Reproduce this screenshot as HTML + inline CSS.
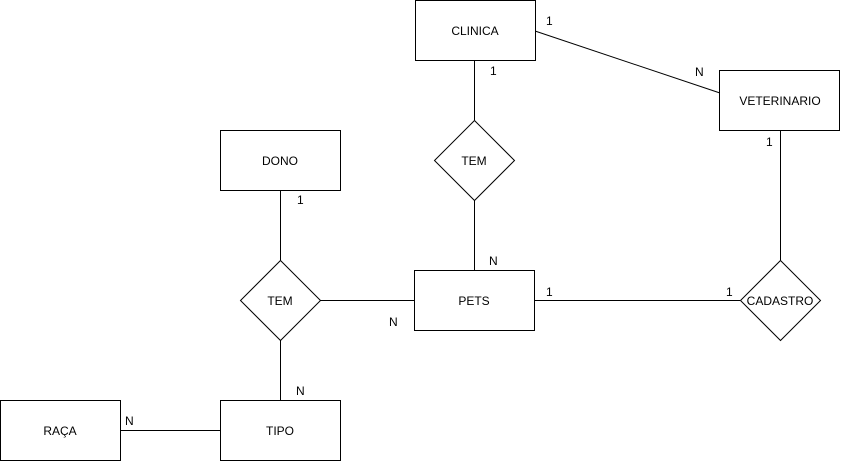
<!DOCTYPE html>
<html><head><meta charset="utf-8"><style>
html,body{margin:0;padding:0;background:#fff;}
svg{display:block;}
text{font-family:"Liberation Sans",Arial,sans-serif;font-size:12px;fill:#000;}
</style></head><body>
<svg width="841" height="461" viewBox="0 0 841 461" xmlns="http://www.w3.org/2000/svg">
<g stroke="#000" stroke-width="1" fill="none">
<line x1="535" y1="31" x2="720" y2="93"/>
<line x1="474.5" y1="60" x2="474.5" y2="120"/>
<line x1="474.5" y1="200" x2="474.5" y2="270"/>
<line x1="780.5" y1="130" x2="780.5" y2="260"/>
<line x1="534" y1="300.5" x2="740" y2="300.5"/>
<line x1="320" y1="300.5" x2="414" y2="300.5"/>
<line x1="280.5" y1="190" x2="280.5" y2="260"/>
<line x1="280.5" y1="340" x2="280.5" y2="400"/>
<line x1="120" y1="430.5" x2="220" y2="430.5"/>
</g>
<g stroke="#000" stroke-width="1" fill="#fff">
<rect x="415.5" y="0.5" width="120" height="60"/>
<rect x="719.5" y="70.5" width="120" height="60"/>
<rect x="220.5" y="130.5" width="120" height="60"/>
<rect x="414.5" y="270.5" width="120" height="60"/>
<rect x="220.5" y="400.5" width="120" height="60"/>
<rect x="0.5" y="400.5" width="120" height="60"/>
<polygon points="474.5,120.5 514.5,160.5 474.5,200.5 434.5,160.5"/>
<polygon points="280.5,260.5 320.5,300.5 280.5,340.5 240.5,300.5"/>
<polygon points="780.5,260.5 820.5,300.5 780.5,340.5 740.5,300.5"/>
</g>
<g text-anchor="middle">
<text x="475" y="35">CLINICA</text>
<text x="780" y="105">VETERINARIO</text>
<text x="280" y="165">DONO</text>
<text x="474" y="305">PETS</text>
<text x="280" y="435">TIPO</text>
<text x="60" y="435">RAÇA</text>
<text x="474" y="165">TEM</text>
<text x="280" y="305">TEM</text>
<text x="780" y="305">CADASTRO</text>
</g>
<g>
<text x="546" y="25">1</text>
<text x="695" y="76">N</text>
<text x="490" y="75">1</text>
<text x="766" y="146">1</text>
<text x="297" y="204">1</text>
<text x="489" y="265">N</text>
<text x="546" y="296">1</text>
<text x="726" y="296">1</text>
<text x="389" y="326">N</text>
<text x="296" y="395">N</text>
<text x="125" y="425">N</text>
</g>
</svg>
</body></html>
